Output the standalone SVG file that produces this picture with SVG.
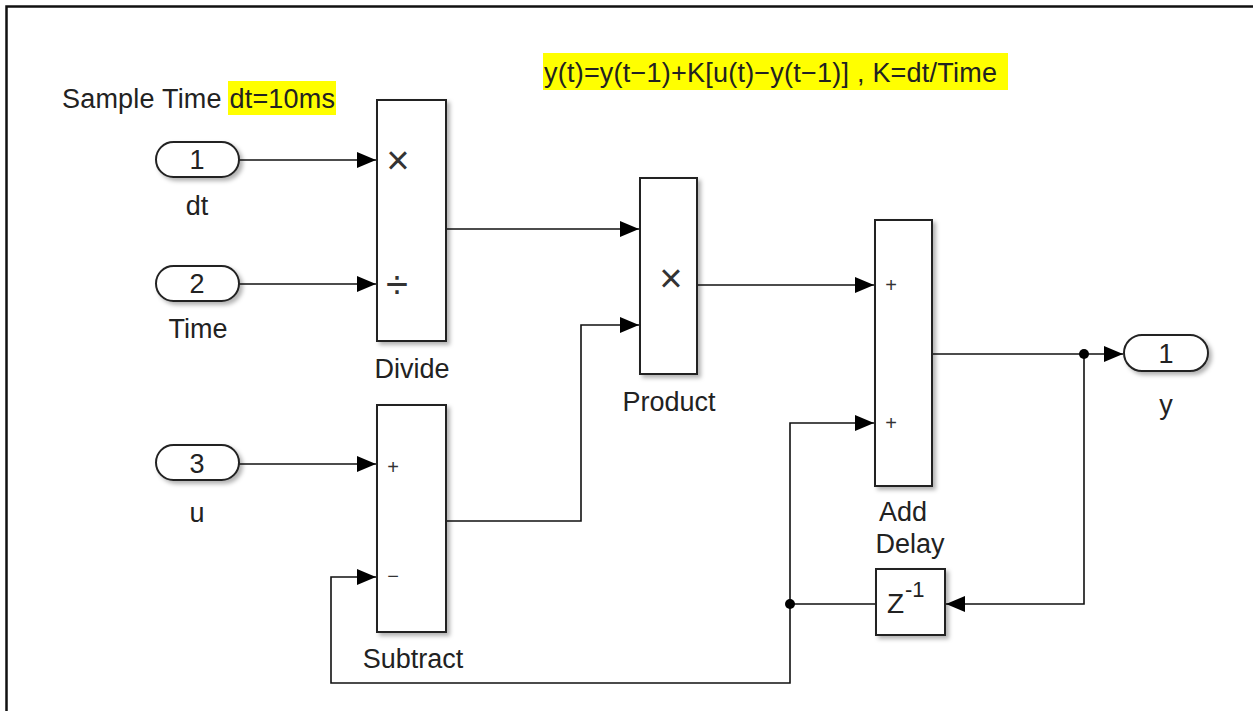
<svg xmlns="http://www.w3.org/2000/svg" width="1253" height="711" viewBox="0 0 1253 711">
<style>
text{font-family:"Liberation Sans",Arial,sans-serif;fill:#222;}
.lbl{font-size:27px;text-anchor:middle;}
.blk{fill:#fff;stroke:#222;stroke-width:2;filter:url(#sh);}
.port{fill:#fff;stroke:#222;stroke-width:2;filter:url(#sh);}
.wire{fill:none;stroke:#111;stroke-width:1.6;}
.sg{font-size:20px;text-anchor:middle;fill:#333;}
.op{font-size:40px;text-anchor:middle;fill:#333;}
</style>
<defs>
<filter id="sh" x="-20%" y="-20%" width="150%" height="150%">
<feDropShadow dx="3" dy="3" stdDeviation="2" flood-color="#000" flood-opacity="0.3"/>
</filter>
<marker id="ar" markerWidth="20" markerHeight="16" refX="19" refY="8" orient="auto" markerUnits="userSpaceOnUse">
<path d="M0,0 L19,8 L0,16 Z" fill="#000"/>
</marker>
</defs>
<rect x="0" y="0" width="1253" height="711" fill="#fff"/>
<path d="M6.5,711 V6.5 H1253" fill="none" stroke="#111" stroke-width="2.5"/>

<g id="annotations">
<rect x="228" y="81" width="108" height="34" fill="#ffff00"/>
<text x="62" y="108" font-size="27" textLength="273" lengthAdjust="spacing">Sample Time dt=10ms</text>
<rect x="543" y="53" width="465" height="37" fill="#ffff00"/>
<text x="544" y="82" font-size="27" textLength="453" lengthAdjust="spacing">y(t)=y(t−1)+K[u(t)−y(t−1)] , K=dt/Time</text>
</g>

<g id="connectors">
<path class="wire" d="M239,160 H376" marker-end="url(#ar)"/>
<path class="wire" d="M239,284 H376" marker-end="url(#ar)"/>
<path class="wire" d="M239,464 H376" marker-end="url(#ar)"/>
<path class="wire" d="M446,229 H639" marker-end="url(#ar)"/>
<path class="wire" d="M446,521 H581 V325 H639" marker-end="url(#ar)"/>
<path class="wire" d="M697,285 H874" marker-end="url(#ar)"/>
<path class="wire" d="M932,354 H1123" marker-end="url(#ar)"/>
<path class="wire" d="M1084,354 V604 H946" marker-end="url(#ar)"/>
<path class="wire" d="M876,604 H790 V423 H874" marker-end="url(#ar)"/>
<path class="wire" d="M790,604 V683 H331 V577 H376" marker-end="url(#ar)"/>
<circle cx="1084" cy="354" r="5" fill="#000"/>
<circle cx="790" cy="604" r="5" fill="#000"/>
</g>

<g id="in1">
<rect class="port" x="156" y="142" width="83" height="35" rx="17.5"/>
<text class="lbl" x="197" y="169">1</text>
<text class="lbl" x="197" y="215">dt</text>
</g>
<g id="in2">
<rect class="port" x="156" y="266" width="83" height="35" rx="17.5"/>
<text class="lbl" x="197" y="293">2</text>
<text class="lbl" x="198" y="338">Time</text>
</g>
<g id="in3">
<rect class="port" x="156" y="445" width="83" height="35" rx="17.5"/>
<text class="lbl" x="197" y="473">3</text>
<text class="lbl" x="197" y="522">u</text>
</g>

<g id="divide">
<rect class="blk" x="377" y="100" width="69" height="241"/>
<text class="op" x="398" y="174">×</text>
<text class="op" x="397" y="298">÷</text>
<text class="lbl" x="412" y="378">Divide</text>
</g>

<g id="subtract">
<rect class="blk" x="377" y="405" width="69" height="227"/>
<text class="sg" x="393" y="474">+</text>
<text class="sg" x="393" y="583">−</text>
<text class="lbl" x="413" y="668">Subtract</text>
</g>

<g id="product">
<rect class="blk" x="640" y="178" width="57" height="196"/>
<text class="op" x="671" y="292">×</text>
<text class="lbl" x="669" y="411">Product</text>
</g>

<g id="add">
<rect class="blk" x="875" y="220" width="57" height="266"/>
<text class="sg" x="891" y="292">+</text>
<text class="sg" x="891" y="430">+</text>
<text class="lbl" x="903" y="521">Add</text>
</g>

<g id="delay">
<rect class="blk" x="876" y="569" width="69" height="66"/>
<text class="lbl" x="910" y="553">Delay</text>
<text x="887" y="613" font-size="28">Z</text>
<text x="905" y="597" font-size="22">-1</text>
</g>

<g id="out1">
<rect class="port" x="1124" y="335" width="84" height="36" rx="18"/>
<text class="lbl" x="1166" y="363">1</text>
<text class="lbl" x="1166" y="414">y</text>
</g>
</svg>
